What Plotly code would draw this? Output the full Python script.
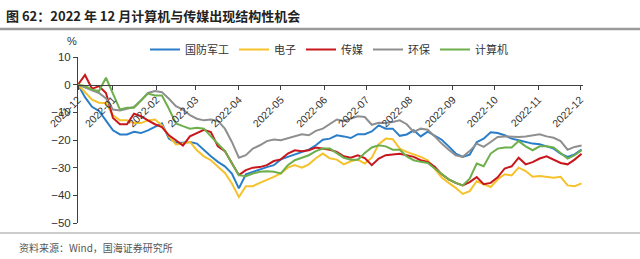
import pandas as pd
import plotly.graph_objects as go

dates = pd.date_range("2021-12-07", periods=73, freq="5D")

guofang = [0, -4.5, -8, -9.5, -13, -16.5, -18, -18, -17, -17.5, -16.5, -15.3, -14, -19.5, -21,
           -21, -20.7, -21.3, -23.7, -25.9, -27.9, -29.5, -32.1, -37.5, -32.4, -31.5, -30.7, -29.8, -29.1,
           -27, -26.1, -25.2, -24.3, -23.5, -21.9, -19.9, -19.5, -18.3, -18.7, -19.3, -17.9, -17.9, -16.9,
           -14.7, -15.9, -15.9, -18.5, -18, -16.5, -18.7, -17, -18.3, -19.9, -22.3, -24.9, -26.1, -25.3,
           -20.8, -19.5, -17.2, -17.5, -18.3, -19.5, -20.1, -20.7, -21.3, -21.5, -22.3, -23.1, -24.9, -26.1,
           -25.2, -23.5]
dianzi = [0, -2.7, -5.4, -6.5, -6.6, -11.1, -12.9, -12.9, -13.9, -13.9, -12.9, -12.6, -14.7, -18.7, -21.6,
          -21.3, -20.7, -23.7, -25.9, -27.3, -29.7, -31.9, -35.7, -40.6, -36.7, -36.7, -35.5, -34.5, -33.3,
          -32.1, -30, -29.1, -30, -28.8, -26.6, -24.9, -26.6, -27.1, -28.8, -27.7, -27.1, -28.5, -26.4,
          -21.5, -19.5, -19.7, -23.1, -24.3, -25.2, -26.1, -27.3, -30.3, -33.6, -35.5, -37.3, -39.5, -38.5,
          -34.9, -36, -37, -34.3, -32.4, -32.8, -30, -31.2, -33.3, -33, -33.3, -33.6, -33.3, -36.4,
          -36.7, -35.7]
chuanmei = [0, 3.5, -1.5, -0.5, -3, -12, -14.3, -14.3, -10.5, -11.4, -12.9, -14.3, -15.3, -18.3, -20.1,
            -22, -18.7, -17.5, -16.3, -17.1, -22.3, -24, -28.5, -32.7, -30.9, -30, -29.8, -29.1, -27.6,
            -27, -24.9, -23.7, -24.1, -23.7, -22.7, -23.1, -23.5, -24.3, -25.9, -26.4, -25.5, -26.5, -29.1,
            -26.7, -25.5, -25.2, -25, -25.5, -26.1, -27.3, -27.9, -29.7, -32.4, -34.2, -35.5, -36.4, -35.2,
            -33.4, -36, -35.5, -33.5, -30.3, -29.5, -26.4, -28.8, -28, -26.7, -25.9, -27.1, -28.3, -28.8,
            -27.1, -25]
huanbao = [0, -1, -2, -3, -5, -9, -9.3, -8.7, -8.1, -5.7, -3, -2.3, -2.7, -5.1, -7.8,
           -9, -11, -12.3, -12.9, -12.6, -13.1, -15.9, -20.7, -26.4, -25.5, -23.1, -21.9, -20.4, -19.8,
           -20.1, -19.3, -18.7, -17.9, -18.3, -16.7, -15.9, -14.3, -12.6, -13.1, -12.3, -11.4, -11.7, -14.5,
           -13.8, -13.9, -13.5, -12.9, -14.3, -17.1, -15.9, -16.3, -18.7, -21.3, -23.5, -25.5, -26.1, -24,
           -21.3, -22.5, -20.7, -18.9, -18.7, -18.9, -18.9, -18.7, -18.3, -17.9, -18.7, -19.2, -20.4, -23.5,
           -22.5, -22]
jisuanji = [0, -0.5, -1.8, -2.3, 2.5, -3.5, -9, -8.3, -8.3, -5.7, -3.2, -3.9, -3.9, -8.7, -14,
            -15, -15.9, -15.6, -15.9, -18.7, -21.5, -24, -28.5, -32.7, -33.1, -32.1, -31.5, -31.3, -31.5,
            -32.1, -29.1, -27.3, -26.4, -25.5, -24, -23.1, -23.1, -24.7, -26.4, -27.1, -27.1, -24.7, -22.7,
            -21.9, -22.3, -23.5, -23.5, -25.9, -27.3, -27.9, -28.3, -30.3, -32.4, -34.2, -35.5, -36.4, -34,
            -28.5, -29.5, -24.9, -23.1, -22.7, -22.7, -20.4, -22.3, -23.7, -22.3, -22.3, -22.7, -24.7, -26.7,
            -25.5, -23.7]

series_names = ["国防军工", "电子", "传媒", "环保", "计算机"]
series_values = [guofang, dianzi, chuanmei, huanbao, jisuanji]
series_colors = ["#2A7DC8", "#F5C22B", "#C8161D", "#8F8F8F", "#6DAF4B"]

tick_dates = ["2021-12-07", "2022-01-01", "2022-02-01", "2022-03-01", "2022-04-01", "2022-05-01",
              "2022-06-01", "2022-07-01", "2022-08-01", "2022-09-01", "2022-10-01", "2022-11-01",
              "2022-12-01"]
tick_labels = ["2021-12", "2022-01", "2022-02", "2022-03", "2022-04", "2022-05", "2022-06",
               "2022-07", "2022-08", "2022-09", "2022-10", "2022-11", "2022-12"]
y_ticks = [10, 0, -10, -20, -30, -40, -50]

title = "图 62：2022 年 12 月计算机与传媒出现结构性机会"
source = "资料来源：Wind，国海证券研究所"

fig = go.Figure()
for name, vals, col in zip(series_names, series_values, series_colors):
    fig.add_trace(go.Scatter(x=dates, y=vals, mode="lines", name=name,
                             line=dict(color=col, width=2)))

W, H = 640, 259
L, R, T, B = 78, 57, 57, 36
fig.update_layout(
    width=W, height=H,
    margin=dict(l=L, r=R, t=T, b=B, pad=0),
    paper_bgcolor="white", plot_bgcolor="white",
    font=dict(family="Liberation Sans, Noto Sans CJK SC, sans-serif", size=11, color="#333"),
    showlegend=True,
    legend=dict(orientation="h", x=(145 - L) / (W - L - R), y=1 + (T - 35) / (H - T - B),
                xanchor="left", yanchor="top",
                font=dict(family="Noto Sans CJK SC, sans-serif", size=11, color="#333"),
                bgcolor="rgba(0,0,0,0)", itemwidth=30, tracegroupgap=0),
)
fig.update_xaxes(
    type="date", range=["2021-12-07", "2022-12-03"],
    tickvals=tick_dates, ticktext=tick_labels, tickangle=-45,
    showgrid=False, zeroline=False,
    showline=True, linecolor="#404040", linewidth=1,
    ticks="outside", ticklen=4, tickcolor="#404040",
    anchor="free", position=50 / 60,
    tickfont=dict(family="Liberation Sans, sans-serif", size=10.5, color="#333"),
)
fig.update_yaxes(
    range=[-50, 10], tickvals=y_ticks,
    showgrid=False, zeroline=False,
    showline=True, linecolor="#404040", linewidth=1,
    ticks="outside", ticklen=4, tickcolor="#404040",
    tickfont=dict(family="Liberation Sans, sans-serif", size=11.5, color="#333"),
)

fig.add_annotation(text="<b>" + title + "</b>", xref="paper", yref="paper",
                   x=-(L - 4) / (W - L - R), y=1 + (T - 4) / (H - T - B),
                   xanchor="left", yanchor="top", showarrow=False,
                   font=dict(family="Noto Sans CJK SC, sans-serif", size=13, color="#222"))
fig.add_annotation(text="%", xref="paper", yref="paper",
                   x=-(L - 72) / (W - L - R), y=1 + (T - 33) / (H - T - B),
                   xanchor="center", yanchor="top", showarrow=False,
                   font=dict(family="Liberation Sans, sans-serif", size=11, color="#333"))
fig.add_annotation(text=source, xref="paper", yref="paper",
                   x=-(L - 17) / (W - L - R), y=-(238 - (H - B)) / (H - T - B),
                   xanchor="left", yanchor="top", showarrow=False,
                   font=dict(family="Noto Sans CJK SC, sans-serif", size=10, color="#555"))

fig.add_shape(type="line", xref="paper", yref="paper",
              x0=-L / (W - L - R), x1=1 + R / (W - L - R),
              y0=1 + (T - 29) / (H - T - B), y1=1 + (T - 29) / (H - T - B),
              line=dict(color="#9A9A9A", width=2.5))
fig.add_shape(type="line", xref="paper", yref="paper",
              x0=-L / (W - L - R), x1=1 + R / (W - L - R),
              y0=-(233 - (H - B)) / (H - T - B), y1=-(233 - (H - B)) / (H - T - B),
              line=dict(color="#9A9A9A", width=1))

fig.write_html("out.html")
